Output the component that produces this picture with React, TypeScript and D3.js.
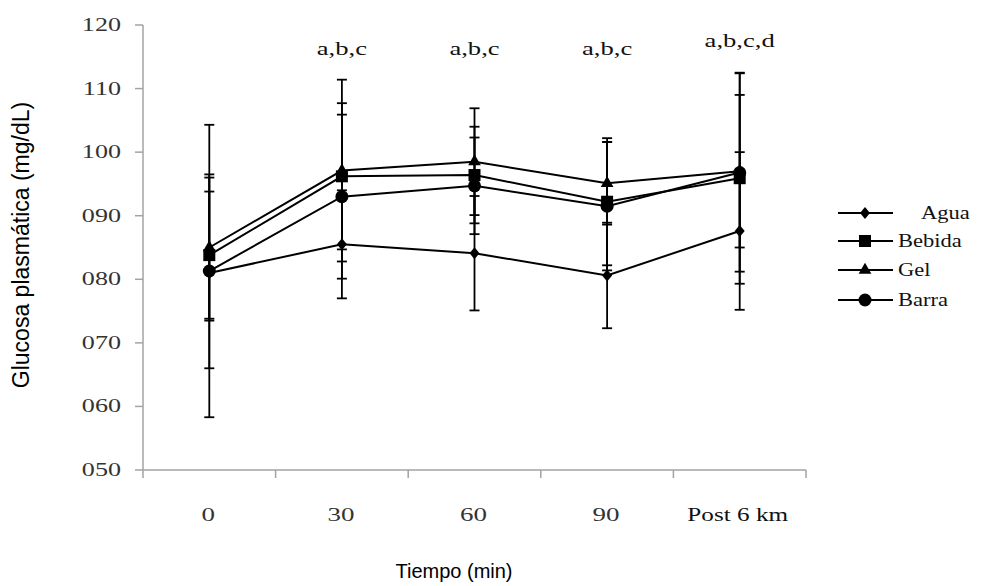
import React from 'react';
import * as d3 from 'd3';

// time points and series values (mg/dL)
const categories = ['0', '30', '60', '90', 'Post 6 km'];
const seriesNames = ['Agua', 'Bebida', 'Gel', 'Barra'];
const agua = [81.0, 85.5, 84.1, 80.6, 87.6];
const aguaSd = [15.0, 8.5, 9.0, 8.3, 12.4];
const bebida = [83.8, 96.2, 96.4, 92.2, 95.9];
const bebidaSd = [10.0, 11.5, 7.6, 10.0, 16.6];
const gel = [85.0, 97.1, 98.5, 95.1, 97.0];
const gelSd = [11.5, 14.3, 8.4, 6.5, 12.0];
const barra = [81.3, 93.0, 94.7, 91.5, 96.8];
const barraSd = [23.0, 12.9, 7.6, 10.1, 15.6];
const significance = ['', 'a,b,c', 'a,b,c', 'a,b,c', 'a,b,c,d'];
const yTicks = [50, 60, 70, 80, 90, 100, 110, 120];

const W = 981;
const H = 586;
const serif = '"Liberation Serif", "DejaVu Serif", serif';
const sans = '"Liberation Sans", Arial, sans-serif';
const axisColor = '#a3a3a3';

const x = d3.scaleBand().domain(categories).range([143, 806]);
const y = d3.scaleLinear().domain([50, 120]).range([470, 25]);

const series = [
  { name: seriesNames[0], values: agua, sd: aguaSd, shape: 'diamond' },
  { name: seriesNames[1], values: bebida, sd: bebidaSd, shape: 'square' },
  { name: seriesNames[2], values: gel, sd: gelSd, shape: 'triangle' },
  { name: seriesNames[3], values: barra, sd: barraSd, shape: 'circle' },
];

const cx = (c: string) => (x(c) as number) + x.bandwidth() / 2;

const Marker = ({ shape, px, py }: { shape: string; px: number; py: number }) => {
  if (shape === 'diamond') {
    const p = d3.path();
    p.moveTo(px, py - 6);
    p.lineTo(px + 5, py);
    p.lineTo(px, py + 6);
    p.lineTo(px - 5, py);
    p.closePath();
    return <path d={p.toString()} fill="#000" />;
  }
  if (shape === 'square') {
    return <rect x={px - 6} y={py - 6} width={12} height={12} fill="#000" />;
  }
  if (shape === 'triangle') {
    const p = d3.symbol().type(d3.symbolTriangle).size(70)();
    return <path d={p as string} transform={`translate(${px},${py})`} fill="#000" />;
  }
  return <circle cx={px} cy={py} r={6.5} fill="#000" />;
};

// serif text in the figure is horizontally stretched
const Stretched = ({ tx, ty, sx, size, anchor, children, fill }: any) => (
  <g transform={`translate(${tx},${ty}) scale(${sx},1)`}>
    <text x={0} y={0} textAnchor={anchor} fontFamily={serif} fontSize={size} fill={fill || '#111'}>
      {children}
    </text>
  </g>
);

export default function App() {
  const line = d3
    .line<number>()
    .x((_, i) => cx(categories[i]))
    .y(d => y(d));

  const legendY = [213, 241, 270, 300];

  return (
    <div style={{ position: 'absolute', left: 0, top: 0 }}>
      <svg width={W} height={H} style={{ display: 'block', background: '#fff' }}>
        {/* axes */}
        <line x1={143} x2={143} y1={y(120)} y2={y(50)} stroke={axisColor} strokeWidth={1.5} />
        {yTicks.map(t => (
          <g key={t}>
            <line x1={135} x2={143} y1={y(t)} y2={y(t)} stroke={axisColor} strokeWidth={1.5} />
            <Stretched tx={121} ty={y(t) + 6} sx={1.45} size={18} anchor="end" fill="#333">
              {String(t).padStart(3, '0')}
            </Stretched>
          </g>
        ))}
        <line x1={143} x2={806} y1={y(50)} y2={y(50)} stroke={axisColor} strokeWidth={1.5} />
        {[...categories.map(c => x(c) as number), 806].map((t, i) => (
          <line key={i} x1={t} x2={t} y1={y(50)} y2={y(50) + 8} stroke={axisColor} strokeWidth={1.5} />
        ))}
        {categories.map((c, i) =>
          i < 4 ? (
            <Stretched key={c} tx={cx(c) - 1} ty={521} sx={1.5} size={18} anchor="middle" fill="#333">
              {c}
            </Stretched>
          ) : (
            <Stretched key={c} tx={cx(c) - 2} ty={521} sx={1.4} size={18} anchor="middle" fill="#111">
              {c}
            </Stretched>
          )
        )}

        {/* error bars */}
        {series.map(s =>
          s.values.map((v, i) => {
            const px = cx(categories[i]);
            return (
              <g key={s.name + i} stroke="#000" strokeWidth={1.8}>
                <line x1={px} x2={px} y1={y(v + s.sd[i])} y2={y(v - s.sd[i])} />
                <line x1={px - 5} x2={px + 5} y1={y(v + s.sd[i])} y2={y(v + s.sd[i])} />
                <line x1={px - 5} x2={px + 5} y1={y(v - s.sd[i])} y2={y(v - s.sd[i])} />
              </g>
            );
          })
        )}

        {/* lines and markers */}
        {series.map(s => (
          <g key={s.name}>
            <path d={line(s.values) as string} fill="none" stroke="#000" strokeWidth={2} />
            {s.values.map((v, i) => (
              <Marker key={i} shape={s.shape} px={cx(categories[i])} py={y(v)} />
            ))}
          </g>
        ))}

        {/* significance letters */}
        {significance.map((t, i) =>
          t ? (
            <Stretched key={i} tx={cx(categories[i])} ty={i === 4 ? 47 : 55} sx={1.4} size={19} anchor="middle">
              {t}
            </Stretched>
          ) : null
        )}

        {/* legend */}
        {series.map((s, i) => (
          <g key={s.name}>
            <line x1={838} x2={893} y1={legendY[i]} y2={legendY[i]} stroke="#000" strokeWidth={2} />
            <Marker shape={s.shape} px={865} py={legendY[i]} />
            <Stretched tx={i === 0 ? 921 : 898} ty={legendY[i] + 6} sx={1.25} size={18} anchor="start">
              {s.name}
            </Stretched>
          </g>
        ))}

        {/* axis titles */}
        <text
          transform={`translate(29,245) rotate(-90)`}
          textAnchor="middle"
          fontFamily={sans}
          fontSize={23}
          fill="#000"
        >
          Glucosa plasmática (mg/dL)
        </text>
        <text x={454} y={578} textAnchor="middle" fontFamily={sans} fontSize={20} fill="#000">
          Tiempo (min)
        </text>
      </svg>
    </div>
  );
}
